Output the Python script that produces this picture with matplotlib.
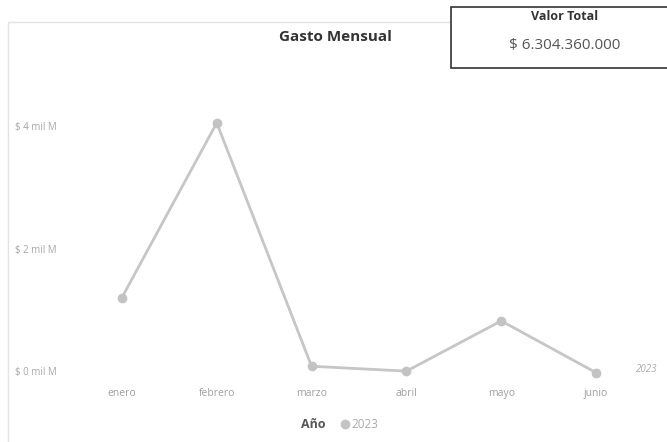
import matplotlib.pyplot as plt
from matplotlib.patches import Rectangle
from matplotlib.transforms import blended_transform_factory

plt.rcParams['font.family'] = ['Open Sans', 'DejaVu Sans']

meses = ["enero", "febrero", "marzo", "abril", "mayo", "junio"]
gasto = [1.23e9, 4.08e9, 0.11e9, 0.03e9, 0.85e9, 0.005e9]
y_ticks = [0, 2e9, 4e9]
y_labels = ["$ 0 mil M", "$ 2 mil M", "$ 4 mil M"]
serie = "2023"
total_label = "$ 6.304.360.000"

W, H = 667, 442
fig = plt.figure(figsize=(W / 100, H / 100), dpi=100)
fig.patch.set_facecolor("white")

# panel border
fig.patches.append(Rectangle((8 / W, -0.05), 1.0, 1 - 22 / H + 0.05, transform=fig.transFigure,
                             fill=False, edgecolor="#e3e3e3", linewidth=1.0))

ax = fig.add_axes([74.5 / W, 1 - 385 / H, 569 / W, 305 / H])
ax.set_xlim(-0.5, 5.5)
ax.set_ylim(-0.196e9, 4.78e9)
for s in ax.spines.values():
    s.set_visible(False)
ax.set_yticks([])
ax.set_xticks([])
ax.patch.set_alpha(0)

x = list(range(len(meses)))
ax.plot(x, gasto, color="#c6c6c6", linewidth=2.0, marker="o", markersize=6,
        markerfacecolor="#c3c3c3", markeredgecolor="#c3c3c3", clip_on=False)

# y labels on the left of the panel
tr = blended_transform_factory(fig.transFigure, ax.transData)
for v, lab in zip(y_ticks, y_labels):
    ax.text(15 / W, v, lab, transform=tr, ha="left", va="center", fontsize=7, color="#a8a8a8")

# x labels
for i, m in enumerate(meses):
    ax.text(i, -0.33e9, m, ha="center", va="center", fontsize=7.5, color="#a0a0a0")

# series end label
ax.text(5.42, gasto[-1] + 0.05e9, serie, ha="left", va="center", fontsize=7, color="#aaaaaa",
        style="italic", clip_on=False)

fig.text(335 / W, 1 - 37 / H, "Gasto Mensual", ha="center", va="center", fontsize=11,
         fontweight="bold", color="#333333")

# card
fig.patches.append(Rectangle((451 / W, 1 - 68 / H), 0.4, 61 / H, transform=fig.transFigure,
                             facecolor="white", edgecolor="#333333", linewidth=1.2))
fig.text(565 / W, 1 - 17 / H, "Valor Total", ha="center", va="center", fontsize=9,
         fontweight="bold", color="#333333")
fig.text(565 / W, 1 - 45 / H, total_label, ha="center", va="center", fontsize=11, color="#555555")

# legend
fig.text(313 / W, 1 - 425 / H, "Año", ha="center", va="center", fontsize=9,
         fontweight="bold", color="#555555")
fig.lines.append(plt.Line2D([345 / W], [1 - 424 / H], transform=fig.transFigure, marker="o",
                            markersize=6, color="#c3c3c3", linestyle="none"))
fig.text(351 / W, 1 - 425 / H, serie, ha="left", va="center", fontsize=8.5, color="#aaaaaa")

fig.savefig("out.png", dpi=100)
